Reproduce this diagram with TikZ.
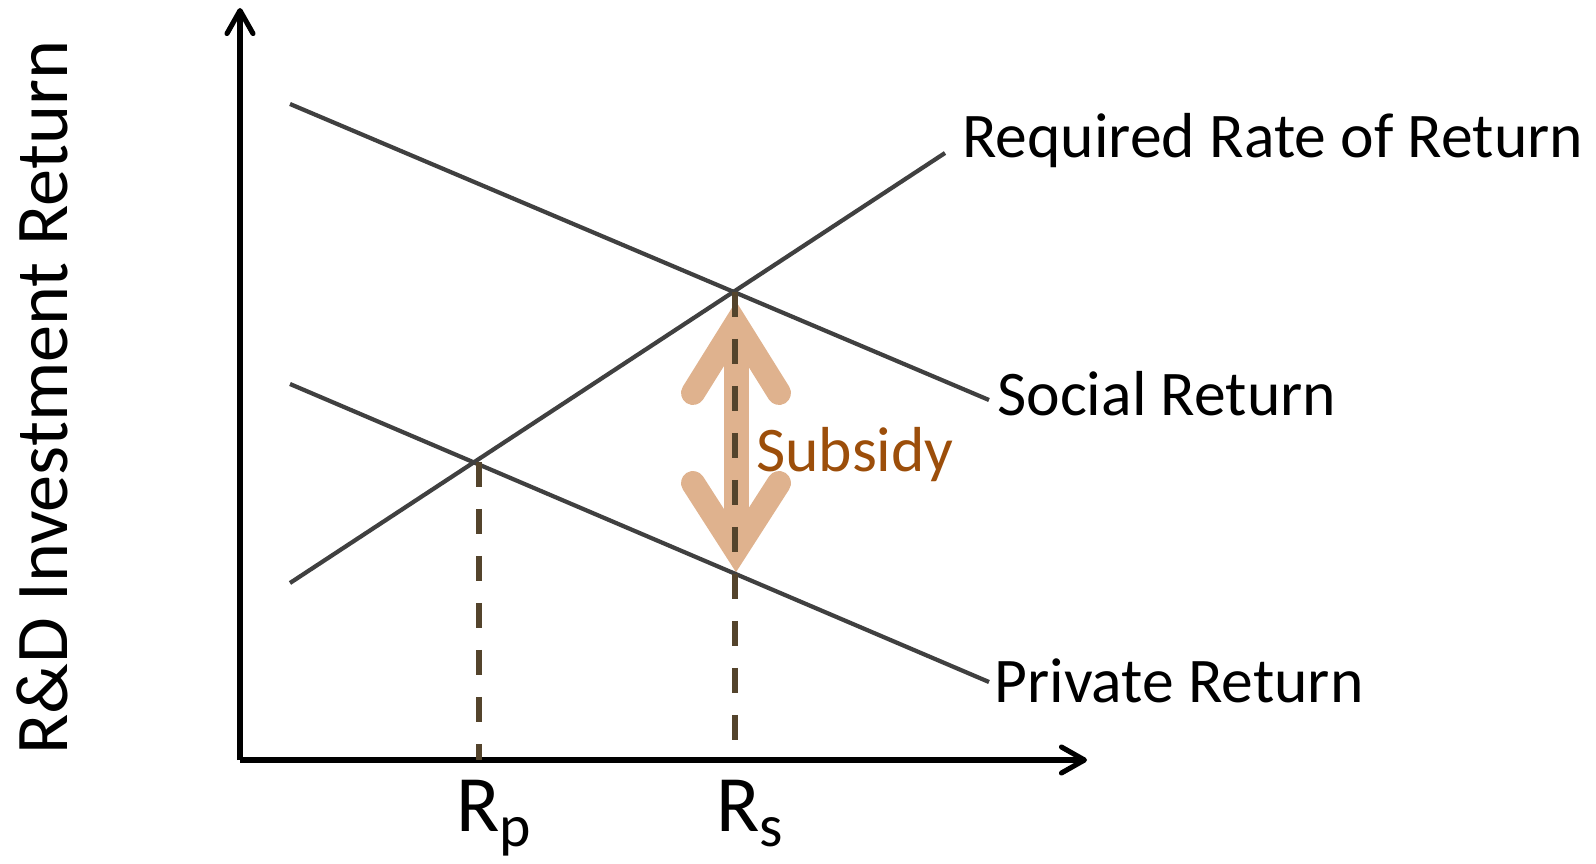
\documentclass[tikz,border=0pt]{standalone}
\usepackage{fontspec}
\setmainfont{Carlito}
\usetikzlibrary{arrows.meta}

\definecolor{linegray}{RGB}{64,64,64}
\definecolor{dropbrown}{RGB}{84,68,44}
\definecolor{subsidytan}{RGB}{223,178,142}
\definecolor{subsidybrown}{RGB}{156,78,10}

\newcommand{\labelfont}{\fontsize{36.2}{40}\selectfont}
\newcommand{\ratefont}{\fontsize{45.5}{50}\selectfont}
\newcommand{\subfont}{\fontsize{34}{38}\selectfont}

\begin{document}
\begin{tikzpicture}[x=0.02cm, y=0.02cm, >={Straight Barb[length=0.46cm, width=0.52cm, round]},
	every node/.style={inner sep=0pt},
	axis/.style={->, line width=2.9pt, black},
	curve/.style={line width=2.4pt, linegray},
	drop/.style={line width=3.4pt, dropbrown, dash pattern=on 0.5cm off 0.44cm},
	subsidy/.style={line width=0.48cm, subsidytan},
	curvelabel/.style={anchor=base west, font=\labelfont}]
				\useasboundingbox (-240,-103) rectangle (1356,760);
				
				% points of the two equilibria
				\coordinate (Es) at (495,468);
				\coordinate (Ep) at (239,298);
				
				% subsidy arrow, drawn under the lines
				\coordinate (Ut) at (496,436);
				\coordinate (Ub) at (496,210);
				\draw[subsidy, line width=0.5cm] (Ut) -- (Ub);
				\draw[subsidy, line cap=round, line join=miter] (453,367) -- (Ut) -- (539,367);
				\draw[subsidy, line cap=round, line join=miter] (453,277) -- (Ub) -- (539,277);
				
				% axes
				\draw[axis] (0,0) -- (847,0);
				\draw[axis] (0,0) -- (0,752);
				\node[rotate=90, anchor=base, font=\fontsize{42.3}{46}\selectfont] (ylabel) at (-172,362) {R\&D Investment Return};
				
				% social return
				\draw[curve] (50,656) -- (749,360);
				\node[curvelabel] (sociallabel) at (757,345) {Social Return};
				
				% required rate of return
				\draw[curve] (50,177) -- (705,607);
				\node[curvelabel] (reqlabel) at (722,602) {Required Rate of Return};
				
				% private return
				\draw[curve] (50,376) -- (749,78);
				\node[curvelabel] (privlabel) at (754,58) {Private Return};
				
				% drops to the axis
				\draw[drop] (Es) -- (Es |- 0,0);
				\draw[drop] (Ep) -- (Ep |- 0,0);
				\node[anchor=base west, font=\ratefont] (rplabel) at (216,-71) {R\raisebox{-0.3cm}{\subfont p}};
				\node[anchor=base west, font=\ratefont] (rslabel) at (476,-71) {R\raisebox{-0.3cm}{\subfont s}};
				
				\node[curvelabel, text=subsidybrown] (subsidylabel) at (516,289) {Subsidy};
			\end{tikzpicture}
\end{document}
